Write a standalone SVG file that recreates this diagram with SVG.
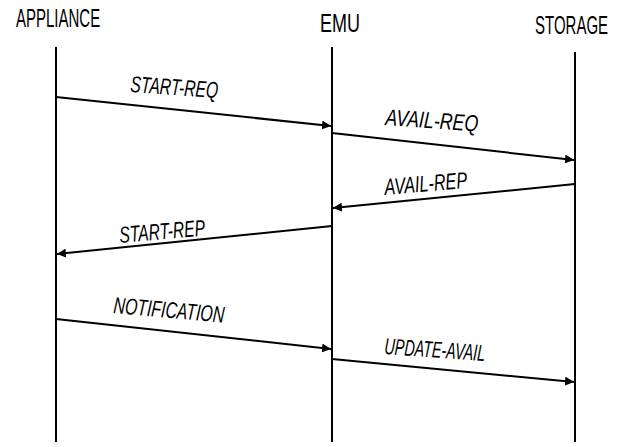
<svg xmlns="http://www.w3.org/2000/svg" width="630" height="447" viewBox="0 0 630 447">
<defs>
<marker id="ah" viewBox="0 0 10 10" refX="10" refY="5" markerWidth="9" markerHeight="9" markerUnits="userSpaceOnUse" orient="auto">
<path d="M0,0 L10,5 L0,10 z" fill="#000"/>
</marker>
</defs>
<style>
.hdr{font-family:"Liberation Sans",Arial,sans-serif;font-size:25px;fill:#000}
.lbl{font-family:"Liberation Sans",Arial,sans-serif;font-size:23px;font-style:italic;fill:#000}
.life{stroke:#000;stroke-width:2;fill:none}
.msg{stroke:#000;stroke-width:2;fill:none;marker-end:url(#ah)}
</style>
<rect width="630" height="447" fill="#fff"/>
<g id="appliance">
<text class="hdr" transform="translate(16,27) scale(0.6,1)">APPLIANCE</text>
<line class="life" x1="56" y1="47" x2="56" y2="442"/>
</g>
<g id="emu">
<text class="hdr" transform="translate(320,32) scale(0.72,1)">EMU</text>
<line class="life" x1="332" y1="47" x2="332" y2="442"/>
</g>
<g id="storage">
<text class="hdr" transform="translate(535,34) scale(0.6,1)">STORAGE</text>
<line class="life" x1="575" y1="52" x2="575" y2="442"/>
</g>
<g id="connectors">
<line class="msg" x1="56" y1="97" x2="331" y2="126"/>
<text class="lbl" transform="translate(130,92) rotate(4)" textLength="88" lengthAdjust="spacingAndGlyphs">START-REQ</text>
<line class="msg" x1="332" y1="133" x2="574" y2="160"/>
<text class="lbl" transform="translate(385,125) rotate(4)" textLength="93" lengthAdjust="spacingAndGlyphs">AVAIL-REQ</text>
<line class="msg" x1="575" y1="184" x2="333" y2="208"/>
<text class="lbl" transform="translate(385,195) rotate(-5)" textLength="83" lengthAdjust="spacingAndGlyphs">AVAIL-REP</text>
<line class="msg" x1="332" y1="226" x2="57" y2="254"/>
<text class="lbl" transform="translate(120,243) rotate(-5)" textLength="86" lengthAdjust="spacingAndGlyphs">START-REP</text>
<line class="msg" x1="56" y1="319" x2="331" y2="349"/>
<text class="lbl" transform="translate(113,313) rotate(5)" textLength="111" lengthAdjust="spacingAndGlyphs">NOTIFICATION</text>
<line class="msg" x1="332" y1="359" x2="574" y2="382"/>
<text class="lbl" transform="translate(384,354) rotate(4)" textLength="101" lengthAdjust="spacingAndGlyphs">UPDATE-AVAIL</text>
</g>
</svg>
